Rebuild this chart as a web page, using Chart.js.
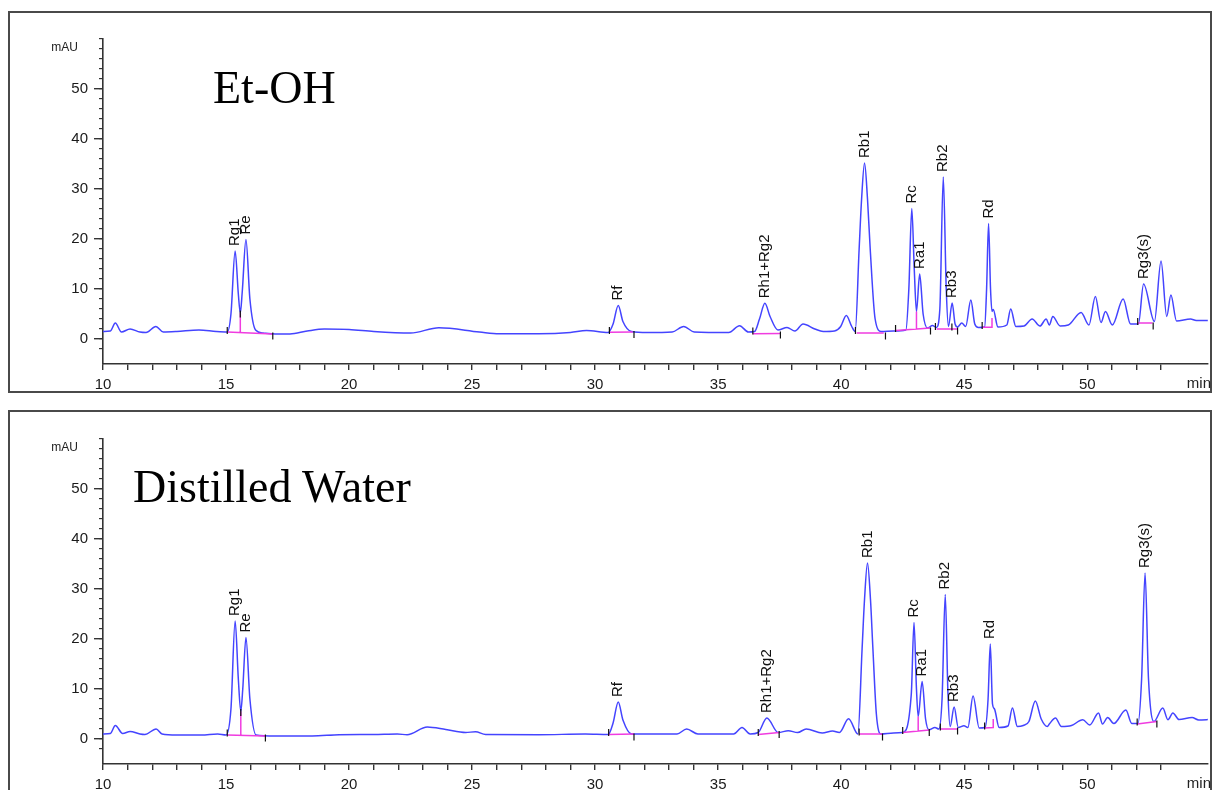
<!DOCTYPE html>
<html>
<head>
<meta charset="utf-8">
<title>Ginsenoside HPLC chromatograms</title>
<script src="https://cdn.jsdelivr.net/npm/chart.js@4.4.1/dist/chart.umd.min.js"></script>
<style>
  html, body { margin: 0; padding: 0; background: #fff; }
  body { width: 1213px; height: 790px; position: relative; overflow: hidden; font-family: 'Liberation Sans', Arial, sans-serif; }
  .frame { position: absolute; left: 8px; width: 1204px; border: 2px solid #4a4a4a; box-sizing: border-box; }
  .plot { position: absolute; left: 0; width: 1213px; height: 400px; }
  .title { position: absolute; font-family: 'Liberation Serif', 'Times New Roman', serif; font-size: 46px; line-height: 46px; color: #000; white-space: nowrap; }
  .unit { position: absolute; left: 30px; width: 48px; text-align: right; font-size: 12px; line-height: 12px; color: #222; }
  .minlabel { position: absolute; left: 1150px; width: 61px; text-align: right; font-size: 15px; line-height: 15px; color: #222; }
</style>
</head>
<body>

<div class="frame" style="top:11px; height:382px;"></div>
<div class="frame" style="top:410px; height:400px;"></div>

<canvas id="etohChart" class="plot" width="1213" height="400" style="top:0px;"></canvas>
<canvas id="waterChart" class="plot" width="1213" height="400" style="top:400px;"></canvas>

<div class="title" style="left:213px; top:65px;">Et-OH</div>
<div class="title" style="left:133px; top:464px;">Distilled Water</div>
<div class="unit" style="top:41px;">mAU</div>
<div class="unit" style="top:441px;">mAU</div>
<div class="minlabel" style="top:375px;">min</div>
<div class="minlabel" style="top:775px;">min</div>

<script>
// Axis labels
const xLabelValues = [10, 15, 20, 25, 30, 35, 40, 45, 50];
const yLabelValues = [0, 10, 20, 30, 40, 50];

// Peak names (same order for both runs)
const peakNames = ['Rg1', 'Re', 'Rf', 'Rh1+Rg2', 'Rb1', 'Rc', 'Ra1', 'Rb2', 'Rb3', 'Rd', 'Rg3(s)'];

// Et-OH extract trace: retention time (min) / absorbance (mAU)
const etohTime = [
  10.0, 10.3, 10.5, 10.75, 11.1, 11.5, 11.75, 12.15, 12.45, 13.0, 13.9, 14.6, 15.05, 15.2, 15.37, 15.5, 15.58, 15.66, 15.81, 15.97,
  16.2, 16.5, 17.0, 17.6, 18.3, 19.0, 20.0, 21.0, 22.5, 23.65, 25.3, 26.1, 27.7, 29.0, 29.65, 30.53, 30.73, 30.94, 31.13, 31.48,
  32.13, 33.13, 33.6, 34.03, 35.43, 35.87, 36.23, 36.48, 36.68, 36.9, 37.11, 37.43, 37.8, 38.12, 38.45, 38.93, 39.27, 39.73, 39.98, 40.21,
  40.43, 40.57, 40.73, 40.83, 40.95, 41.07, 41.18, 41.38, 41.63, 42.13, 42.63, 42.75, 42.87, 42.97, 43.06, 43.19, 43.33, 43.51, 43.71, 43.87,
  44.01, 44.15, 44.27, 44.36, 44.51, 44.63, 44.73, 44.9, 45.06, 45.27, 45.43, 45.58, 45.83, 45.91, 45.99, 46.07, 46.13, 46.18, 46.37, 46.73,
  46.89, 47.1, 47.43, 47.76, 48.08, 48.33, 48.46, 48.6, 48.9, 49.23, 49.75, 50.07, 50.33, 50.56, 50.74, 51.02, 51.46, 51.76, 52.08, 52.29,
  52.73, 53.0, 53.23, 53.4, 53.63, 54.2, 54.43, 55.0
];
const etohSignal = [
  1.5, 1.6, 3.2, 1.4, 2.0, 1.4, 1.3, 2.5, 1.4, 1.5, 1.8, 1.5, 1.4, 5.0, 17.6, 9.0, 5.2, 9.5, 19.9, 8.0,
  1.8, 1.2, 1.0, 1.0, 1.6, 2.0, 1.9, 1.5, 1.2, 2.25, 1.4, 1.05, 1.05, 1.3, 1.7, 1.3, 3.0, 6.7, 3.5, 1.5,
  1.3, 1.4, 2.5, 1.4, 1.3, 2.65, 1.4, 1.5, 4.0, 7.15, 4.5, 1.8, 2.3, 1.6, 3.0, 2.0, 1.5, 1.6, 2.5, 4.7,
  2.5, 1.5, 18.0, 28.0, 35.2, 28.0, 18.0, 4.0, 1.5, 1.6, 1.8, 10.0, 26.1, 14.0, 5.5, 13.0, 5.0, 2.2, 2.7, 2.3,
  6.0, 32.4, 10.0, 2.5, 7.2, 3.0, 2.4, 3.2, 2.5, 7.8, 3.0, 2.3, 2.4, 10.0, 23.1, 10.0, 5.5, 5.9, 2.4, 2.8,
  6.0, 2.5, 2.6, 4.0, 2.6, 4.0, 2.8, 4.5, 2.6, 2.8, 5.3, 2.8, 8.5, 3.3, 5.5, 2.8, 8.0, 3.0, 3.0, 11.0,
  3.5, 15.6, 4.5, 8.8, 3.6, 4.0, 3.7, 3.7
];

// Distilled water extract trace
const waterTime = [
  10.0, 10.3, 10.5, 10.8, 11.1, 11.5, 11.7, 12.16, 12.4, 13.0, 14.0, 14.66, 15.0, 15.2, 15.37, 15.5, 15.6, 15.68, 15.81, 15.97,
  16.22, 17.0, 18.5, 19.6, 21.0, 21.96, 22.36, 23.18, 23.93, 24.74, 25.14, 25.55, 27.7, 29.6, 30.53, 30.73, 30.94, 31.13, 31.48, 32.63,
  33.33, 33.72, 34.18, 35.63, 35.97, 36.3, 36.63, 36.98, 37.44, 37.85, 38.23, 38.58, 39.23, 39.65, 39.93, 40.3, 40.68, 40.85, 40.95, 41.07,
  41.19, 41.29, 41.43, 41.61, 42.13, 42.5, 42.85, 42.96, 43.06, 43.13, 43.29, 43.43, 43.57, 43.81, 43.97, 44.1, 44.23, 44.34, 44.43, 44.59,
  44.76, 44.99, 45.15, 45.36, 45.61, 45.85, 45.97, 46.06, 46.15, 46.23, 46.42, 46.78, 46.96, 47.16, 47.4, 47.63, 47.89, 48.13, 48.38, 48.46,
  48.71, 48.95, 49.36, 49.82, 50.1, 50.46, 50.62, 50.83, 51.08, 51.57, 51.81, 52.06, 52.21, 52.35, 52.49, 52.71, 53.07, 53.28, 53.48, 53.73,
  54.26, 54.53, 55.0
];
const waterSignal = [
  1.0, 1.1, 2.7, 1.1, 1.5, 1.0, 0.9, 2.0, 1.0, 0.8, 0.8, 1.0, 0.8, 6.0, 23.6, 12.0, 5.5, 10.0, 20.3, 8.0,
  0.8, 0.6, 0.6, 0.85, 0.9, 1.0, 0.85, 2.4, 1.9, 1.3, 1.45, 0.9, 0.85, 1.0, 0.9, 3.2, 7.4, 3.8, 1.0, 1.0,
  1.0, 2.0, 1.0, 1.0, 2.3, 1.0, 1.3, 4.2, 1.3, 1.65, 1.3, 2.0, 1.2, 1.6, 1.3, 4.05, 1.0, 18.0, 28.0, 35.2,
  28.0, 18.0, 5.0, 1.0, 1.2, 1.3, 9.0, 23.3, 10.0, 4.5, 11.5, 4.0, 1.85, 2.3, 2.0, 8.0, 28.9, 9.0, 2.5, 6.4,
  2.3, 2.65, 2.3, 8.6, 2.2, 2.3, 8.0, 19.0, 7.0, 6.0, 2.3, 2.6, 6.2, 2.5, 2.7, 3.5, 7.6, 4.0, 2.5, 3.0,
  4.2, 2.5, 2.7, 3.85, 2.8, 5.2, 3.0, 4.3, 3.1, 5.8, 3.1, 3.1, 12.0, 33.2, 12.0, 3.5, 6.2, 3.85, 5.2, 3.9,
  4.3, 3.8, 3.9
];

// Labelled peak apexes
const etohPeakTime = [15.37, 15.81, 30.94, 36.9, 40.95, 42.87, 43.19, 44.15, 44.51, 45.99, 52.29];
const etohPeakHeight = [17.6, 19.9, 6.7, 7.15, 35.2, 26.1, 13.0, 32.4, 7.2, 23.1, 11.0];
const waterPeakTime = [15.37, 15.81, 30.94, 36.98, 41.07, 42.96, 43.29, 44.23, 44.59, 46.06, 52.35];
const waterPeakHeight = [23.6, 20.3, 7.4, 4.2, 35.2, 23.3, 11.5, 28.9, 6.4, 19.0, 33.2];

// Integration baselines (null = break between segments)
const etohBaseTime = [15.05, 16.9, null, 15.58, 15.58, null, 30.58, 31.53, null, 36.41, 37.53, null, 40.63, 41.73, null,
  42.23, 43.63, null, 43.06, 43.06, null, 43.88, 44.73, null, 45.73, 46.13, 46.13, null, 52.05, 52.65];
const etohBaseSignal = [1.4, 1.0, null, 1.35, 5.2, null, 1.35, 1.4, null, 1.05, 1.1, null, 1.2, 1.2, null,
  1.7, 2.2, null, 1.95, 5.5, null, 2.0, 2.0, null, 2.35, 2.35, 4.2, null, 3.2, 3.2];
const waterBaseTime = [15.05, 16.6, null, 15.6, 15.6, null, 30.55, 31.58, null, 36.63, 37.48, null, 40.73, 41.68, null,
  42.5, 43.58, null, 43.13, 43.13, null, 44.03, 44.73, null, 45.83, 46.18, 46.18, null, 52.03, 52.83];
const waterBaseSignal = [0.8, 0.6, null, 0.75, 5.5, null, 0.9, 1.0, null, 0.9, 1.3, null, 1.0, 1.0, null,
  1.3, 1.8, null, 1.5, 4.5, null, 2.0, 2.0, null, 2.2, 2.3, 4.0, null, 3.0, 3.5];

// Integration event marks
const etohMarkTime = [15.05, 15.58, 16.9, 30.58, 31.58, 36.41, 37.53, 40.58, 41.8, 42.21, 43.63, 43.83, 44.5, 44.73, 45.73, 52.05, 52.68];
const etohMarkSignal = [1.7, 5.0, 0.6, 1.7, 0.9, 1.6, 0.8, 1.7, 0.6, 2.1, 1.6, 2.5, 2.4, 1.6, 2.7, 3.5, 2.6];
const waterMarkTime = [15.05, 15.6, 16.6, 30.55, 31.58, 36.63, 37.48, 40.73, 41.68, 42.5, 43.58, 44.03, 44.73, 45.83, 52.03, 52.83];
const waterMarkSignal = [1.2, 5.3, 0.2, 1.3, 0.4, 1.3, 0.9, 1.4, 0.4, 1.7, 1.3, 2.4, 1.6, 2.6, 3.4, 3.0];

const toPoints = (xs, ys) => xs.map((x, i) => (x === null ? { x: NaN, y: null } : { x: x, y: ys[i] }));

const TICK_FONT = { family: "'Liberation Sans', Arial, sans-serif", size: 15 };
const AXIS_COLOR = '#333';

// Rotated peak names just above each apex
const peakLabelPlugin = {
  id: 'peakLabels',
  afterDatasetsDraw(chart, args, opts) {
    const { ctx, scales } = chart;
    ctx.save();
    ctx.font = "15px 'Liberation Sans', Arial, sans-serif";
    ctx.fillStyle = '#111';
    ctx.textAlign = 'left';
    ctx.textBaseline = 'middle';
    opts.names.forEach((name, i) => {
      const px = scales.x.getPixelForValue(opts.times[i]);
      const py = scales.y.getPixelForValue(opts.heights[i]) - 5;
      ctx.save();
      ctx.translate(px, py);
      ctx.rotate(-Math.PI / 2);
      ctx.fillText(name, 0, 0);
      ctx.restore();
    });
    ctx.restore();
  }
};

function buildChart(canvasId, time, signal, baseT, baseS, markT, markS, peakT, peakH) {
  const ctx = document.getElementById(canvasId).getContext('2d');
  return new Chart(ctx, {
    type: 'scatter',
    data: {
      datasets: [
        {
          // chromatogram trace
          data: toPoints(time, signal),
          showLine: true,
          borderColor: 'rgb(68, 68, 255)',
          borderWidth: 1.5,
          pointRadius: 0,
          cubicInterpolationMode: 'monotone',
          order: 2
        },
        {
          // integration baselines / drop lines
          data: toPoints(baseT, baseS),
          showLine: true,
          spanGaps: false,
          borderColor: '#f03ce0',
          borderWidth: 1.5,
          pointRadius: 0,
          tension: 0,
          order: 1
        },
        {
          // peak start / end marks
          data: toPoints(markT, markS),
          showLine: false,
          pointStyle: 'line',
          rotation: 90,
          radius: 3.5,
          borderColor: '#111',
          borderWidth: 1.2,
          order: 0
        }
      ]
    },
    options: {
      responsive: false,
      animation: false,
      events: [],
      layout: { padding: { top: 39, right: 2, bottom: 10, left: 0 } },
      scales: {
        x: {
          type: 'linear',
          min: 10,
          max: 54.9,
          afterFit: (scale) => { scale.height = 26; },
          afterBuildTicks: (scale) => { scale.ticks = scale.ticks.filter(t => Number.isInteger(t.value)); },
          border: { display: true, color: AXIS_COLOR, width: 1.6 },
          grid: { drawOnChartArea: false, drawTicks: true, tickLength: 6, color: AXIS_COLOR, lineWidth: 1.4 },
          ticks: {
            stepSize: 1,
            autoSkip: false,
            maxRotation: 0,
            padding: 6,
            color: '#1a1a1a',
            font: TICK_FONT,
            callback: (v) => (xLabelValues.includes(v) ? String(v) : '')
          }
        },
        y: {
          type: 'linear',
          position: 'left',
          weight: 1,
          min: -5,
          max: 60,
          afterFit: (scale) => { scale.width = 103; },
          afterBuildTicks: (scale) => { scale.ticks = scale.ticks.filter(t => yLabelValues.includes(t.value)); },
          border: { display: true, color: AXIS_COLOR, width: 1.6 },
          grid: { drawOnChartArea: false, drawTicks: true, tickLength: 9, color: AXIS_COLOR, lineWidth: 1.4 },
          ticks: {
            stepSize: 10,
            autoSkip: false,
            padding: 6,
            color: '#1a1a1a',
            font: TICK_FONT,
            callback: (v) => String(v)
          }
        },
        // minor ticks on the y axis (every 2 mAU), no labels
        yMinor: {
          type: 'linear',
          position: 'left',
          weight: 0,
          min: -5,
          max: 60,
          afterFit: (scale) => { scale.width = 0; },
          afterBuildTicks: (scale) => { scale.ticks = scale.ticks.filter(t => t.value % 2 === 0); },
          border: { display: false },
          grid: { drawOnChartArea: false, drawTicks: true, tickLength: 4, color: AXIS_COLOR, lineWidth: 1.2 },
          ticks: { stepSize: 2, display: false, autoSkip: false }
        }
      },
      plugins: {
        legend: { display: false },
        tooltip: { enabled: false },
        peakLabels: { names: peakNames, times: peakT, heights: peakH }
      }
    },
    plugins: [peakLabelPlugin]
  });
}

buildChart('etohChart', etohTime, etohSignal, etohBaseTime, etohBaseSignal, etohMarkTime, etohMarkSignal, etohPeakTime, etohPeakHeight);
buildChart('waterChart', waterTime, waterSignal, waterBaseTime, waterBaseSignal, waterMarkTime, waterMarkSignal, waterPeakTime, waterPeakHeight);
</script>
</body>
</html>
